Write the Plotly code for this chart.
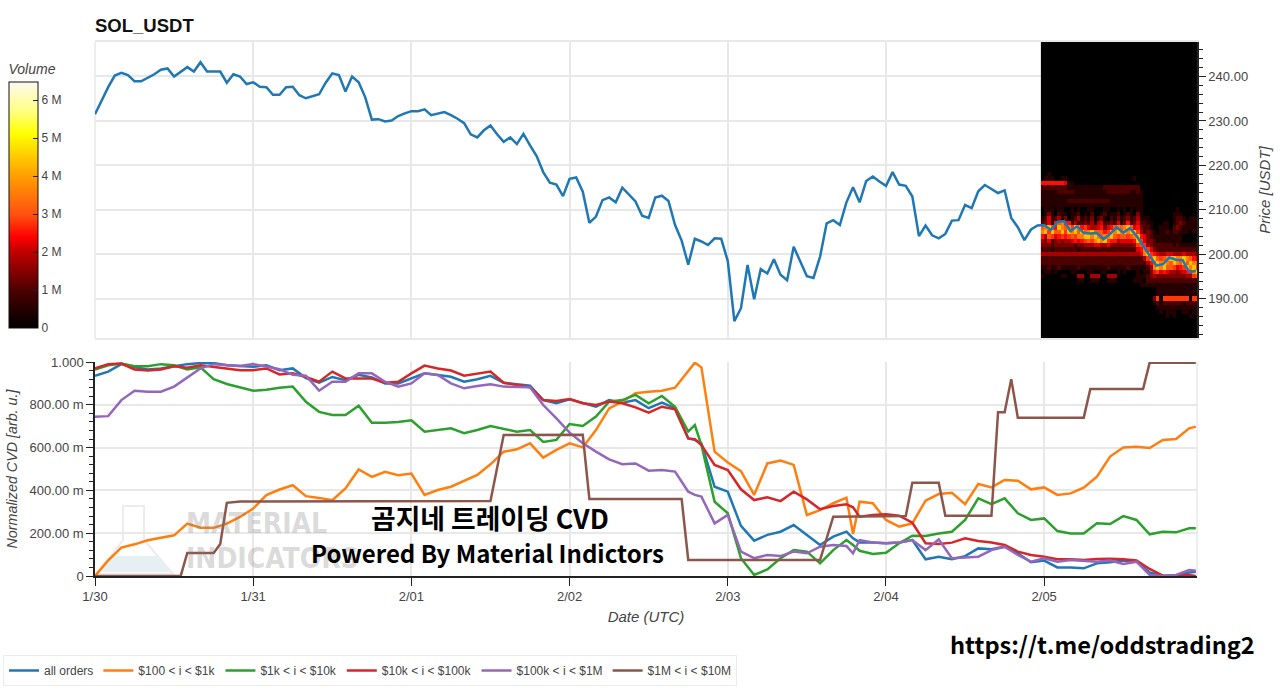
import pandas as pd
import plotly.graph_objects as go
from plotly.subplots import make_subplots

# harga per jam, mulai 1/30 00:00
price = [
    231.5, 234.5, 237.6, 240.2, 240.8, 240.3, 238.9, 238.9, 239.7, 240.5, 241.5, 241.8,
    240.0, 241.1, 242.1, 241.1, 243.2, 241.1, 241.1, 241.1, 238.6, 240.5, 240.0, 238.3,
    238.7, 237.7, 237.6, 235.9, 235.9, 237.6, 237.7, 235.8, 235.1, 235.6, 236.0, 238.6,
    240.7, 240.3, 236.6, 240.0, 238.7, 235.3, 230.3, 230.4, 229.9, 230.1, 231.1, 231.7,
    232.2, 232.2, 232.6, 231.3, 231.6, 232.0, 231.3, 230.5, 229.5, 227.0, 226.3, 227.9,
    229.0, 227.0, 225.3, 226.3, 224.8, 227.1, 224.5, 222.1, 218.5, 216.1, 215.7, 213.1,
    217.0, 217.3, 214.1, 207.1, 208.5, 212.2, 212.8, 211.7, 215.0, 213.5, 211.9, 208.7,
    208.2, 212.8, 213.2, 212.0, 206.6, 203.1, 197.7, 203.5, 202.9, 202.1, 203.6, 203.5,
    198.5, 185.0, 187.9, 197.6, 189.9, 196.7, 195.7, 198.9, 195.4, 194.2, 201.7, 198.4,
    195.1, 194.7, 199.5, 207.0, 207.7, 206.6, 211.7, 215.1, 211.7, 216.5, 217.5, 216.4,
    215.4, 218.5, 215.7, 215.4, 213.0, 204.1, 206.5, 204.3, 203.6, 204.6, 207.6, 207.7,
    211.1, 210.4, 214.2, 215.6, 214.6, 213.8, 214.4, 208.2, 206.1, 203.2, 205.6, 206.5,
    206.6, 205.5, 207.3, 207.5, 205.2, 206.3, 204.8, 204.7, 204.8, 203.4, 204.6, 206.1,
    204.9, 205.9, 204.2, 201.9, 199.9, 197.5, 197.8, 199.3, 198.8, 198.7, 196.0, 196.3,
]

# jam untuk semua seri CVD kecuali brown
cvd_hours = [
    0, 2, 4, 6, 8, 10, 12, 14, 16, 18, 20, 22, 24, 26, 28, 30, 32, 34, 36, 38, 40, 42, 44, 46, 48,
    50, 52, 54, 56, 58, 60, 62, 64, 66, 68, 70, 72, 74, 76, 78, 80, 82, 84, 86, 88, 90, 91,
    92, 94, 96, 98, 100, 102, 104, 106, 108, 110, 112, 114, 115,
    116, 118, 120, 122, 124, 126, 128, 130, 132, 134, 136, 138, 140, 142, 144, 146, 148, 150,
    152, 154, 156, 158, 160, 162, 164, 166, 167,
]
all_orders = [
    .936, .955, .99, .975, .965, .97, .98, .99, .995, .995, .985, .98, .978, .985, .962, .97, .925, .903, .93, .915, .94, .928, .90, .90, .923,
    .947, .939, .931, .908, .919, .935, .903, .896, .889, .822, .807, .826, .807, .791, .822, .81, .822, .784, .81, .784, .643, .636,
    .62, .417, .394, .234, .165, .192, .207, .238, .192, .145, .184, .207, .176,
    .157, .157, .153, .157, .168, .078, .09, .078, .093, .129, .125, .137, .106, .064, .072, .04, .04, .036,
    .059, .064, .072, .067, .016, 0, .002, .016, .02,
]
orders_100_1k = [
    0, .073, .133, .148, .167, .18, .19, .245, .226, .225, .245, .276, .315, .378, .404, .424, .373, .365, .354, .409, .498, .463, .487, .471, .479,
    .379, .402, .417, .445, .472, .522, .581, .592, .62, .553, .589, .62, .601, .682, .783, .815, .854, .861, .866, .88, .96, .997,
    .975, .581, .53, .49, .379, .526, .539, .519, .285, .308, .34, .366, .196,
    .347, .34, .262, .231, .246, .352, .383, .389, .336, .43, .414, .449, .445, .405, .414, .379, .386, .413,
    .464, .558, .601, .604, .598, .636, .64, .69, .698,
]
orders_1k_10k = [
    .965, .985, .993, .98, .98, .99, .985, .965, .975, .92, .897, .88, .866, .87, .88, .885, .814, .767, .752, .752, .796, .716, .716, .72, .728,
    .674, .682, .69, .667, .682, .701, .687, .674, .682, .626, .636, .71, .701, .745, .815, .822, .846, .807, .841, .791, .675, .705,
    .612, .347, .293, .083, .005, .031, .083, .121, .114, .059, .121, .168, .145,
    .118, .103, .109, .153, .188, .187, .199, .207, .262, .363, .336, .363, .293, .262, .269, .21, .199, .199,
    .246, .243, .28, .262, .195, .207, .204, .223, .223,
]
orders_10k_100k = [
    .97, .99, .993, .965, .96, .965, .98, .973, .985, .978, .97, .962, .962, .97, .942, .947, .93, .908, .955, .923, .923, .923, .903, .908, .947,
    .983, .97, .96, .936, .944, .955, .903, .893, .882, .822, .818, .827, .807, .799, .815, .807, .788, .763, .791, .779, .643, .639,
    .612, .519, .495, .405, .355, .368, .35, .394, .358, .312, .327, .335, .321,
    .277, .285, .288, .282, .249, .153, .15, .156, .176, .164, .157, .145, .114, .098, .09, .078, .078, .075,
    .079, .081, .078, .072, .033, .002, 0, .005, 0,
]
orders_100k_1m = [
    .744, .747, .822, .866, .861, .861, .885, .928, .97, .99, .986, .981, .99, .978, .966, .94, .936, .866, .908, .908, .947, .947, .908, .885, .90,
    .947, .939, .90, .877, .888, .896, .885, .885, .882, .799, .737, .67, .62, .581, .545, .522, .526, .492, .495, .488, .394, .379,
    .371, .246, .285, .114, .083, .098, .093, .114, .106, .137, .145, .14, .106,
    .168, .157, .153, .157, .168, .121, .171, .083, .087, .09, .121, .137, .098, .067, .083, .067, .075, .072,
    .067, .072, .056, .067, .005, 0, .005, .028, .025,
]
# brown berbentuk tangga, jadi pakai titik belok sendiri
brown_hours = [0, 13, 14, 18, 19, 20, 22, 60, 62, 74, 75, 89, 90, 110, 112, 123, 124, 128, 129, 136, 137, 138, 139, 140, 150, 151, 159, 160, 167]
orders_1m_10m = [0, 0, .108, .108, .15, .342, .348, .35, .659, .66, .36, .36, .075, .075, .277, .28, .436, .436, .282, .282, .765, .765, .92, .74, .74, .874, .874, .997, .997]

series_names = ["all orders", "$100 < i < $1k", "$1k < i < $10k", "$10k < i < $100k", "$100k < i < $1M"]
series_colors = ["#1f77b4", "#ff7f0e", "#2ca02c", "#d62728", "#9467bd"]
brown_name = "$1M < i < $10M"
brown_color = "#8c564b"

cvd_ticks = [0, 0.2, 0.4, 0.6, 0.8, 1.0]
cvd_ticktext = ["0", "200.00 m", "400.00 m", "600.00 m", "800.00 m", "1.000"]
volume_ticks = [0, 1e6, 2e6, 3e6, 4e6, 5e6, 6e6]
volume_ticktext = ["0", "1 M", "2 M", "3 M", "4 M", "5 M", "6 M"]

# baris heatmap dari harga 218 turun ke 181, sel 30 menit; digit hex menunjuk ke heat_levels
heat_rows = [
    "00100000 00000000 00000000 00000000 00000000 00000000",
    "01110011 00000000 00000000 00001000 00000000 00000000",
    "66666665 11000000 00000000 00000000 00000000 00000000",
    "22222222 11111111 11122222 22222200 00000000 00000000",
    "11111222 22111111 11112222 22211210 00000000 00000000",
    "11111111 11111111 11111111 11111110 00000000 00000000",
    "11111111 22222222 22222111 11111110 00000000 00000000",
    "11111111 11111111 11111111 11111110 00000000 00000000",
    "01110110 01010011 00011001 01010110 00000000 01000000",
    "01310211 01120102 00120112 01210310 00000000 11100000",
    "12512413 01241213 02310213 12312411 10000000 12210110",
    "23526896 62422324 14522325 13623522 11000110 12321111",
    "89a86a98 97a96754 45635689 89a85632 21001110 23211111",
    "9a7a88a7 a9a8a89a 88867a9a 9a9aa742 32101121 22111011",
    "64875676 78799aa9 a9899a87 88789a65 32111111 11100000",
    "43523434 45656787 9a9a7664 55556a75 33211111 11100000",
    "33323333 33233444 55445333 33334787 43222222 12111111",
    "22212222 22212222 22222222 22222569 75322222 22222222",
    "44444444 44444444 44444444 44444459 a7654455 44454443",
    "22222222 22222222 22222222 22222224 79a8789a a99a9865",
    "22222222 22222222 22222222 22222222 468a9a98 a98a8a98",
    "11211211 11121111 11112111 11211111 249a9a88 7567a9a7",
    "01101000 01100011 00110001 01000101 13675654 4345669a",
    "10000011 00044004 44004440 00000111 23433333 33334478",
    "00000000 00011001 11001110 00001110 22222222 22222222",
    "00000000 00000000 00000000 00000011 11111111 11111111",
    "00000000 00000000 00000000 00000000 00011111 11111111",
    "00000000 00000000 00000000 00000000 00011111 11111111",
    "00000000 00000000 00000000 00000000 00370777 77777077",
    "00000000 00000000 00000000 00000000 00121222 22212222",
    "00000000 00000000 00000000 00000000 00011111 11111111",
    "00000000 00000000 00000000 00000000 00001011 10011011",
    "00000000 00000000 00000000 00000000 00000010 10000101",
    "00000000 00000000 00000000 00000000 00000000 00000001",
    "00000000 00000000 00000000 00000000 00000000 00000000",
    "00000000 00000000 00000000 00000000 00000000 00000000",
    "00000000 00000000 00000000 00000000 00000000 00000000",
    "00000000 00000000 00000000 00000000 00000000 00000000",
]
heat_levels = [0, 0.5e6, 1e6, 1.4e6, 1.8e6, 2.2e6, 2.5e6, 2.8e6, 3.1e6, 3.6e6, 4.4e6]
heat_colors = [
    [0, "#000000"], [0.15, "#4a0000"], [0.31, "#c00000"], [0.37, "#ff0000"], [0.46, "#ff5010"],
    [0.62, "#ffa000"], [0.79, "#ffff00"], [0.88, "#ffff80"], [1, "#fff8f0"],
]

W, H = 1280, 691
FONT = "Liberation Sans"
GREY = "#444444"
GRID = "#e8e8e8"


def px(x):
    return (x - 95) / (1197 - 95)


def py(y):
    return (576 - y) / (576 - 42)


start = pd.Timestamp("2025-01-30")
to_date = lambda hours: [start + pd.Timedelta(hours=h) for h in hours]

fig = make_subplots(rows=2, cols=1, shared_xaxes=True, vertical_spacing=0.04)

# Panel atas: harga dan heatmap volume
heat_z = [[heat_levels[int(c, 16)] for c in row.replace(" ", "")] for row in heat_rows]
heat_z = [[0] * 48 for _ in range(30)] + heat_z
fig.add_trace(go.Heatmap(
    x=pd.date_range("2025-02-04 23:45", periods=48, freq="30min"),
    y=list(range(248, 180, -1)),
    z=heat_z, zmin=0, zmax=6.48e6, colorscale=heat_colors, hoverongaps=False, name="Volume",
    colorbar=dict(
        xref="paper", yref="paper", x=px(9), xanchor="left", y=py(328), yanchor="bottom",
        thickness=29, thicknessmode="pixels", len=267, lenmode="pixels", xpad=0, ypad=0,
        outlinecolor="#111111", outlinewidth=1,
        tickmode="array", tickvals=volume_ticks, ticktext=volume_ticktext,
        ticks="inside", ticklen=5, tickcolor="#222222", tickfont=dict(size=12, color=GREY, family=FONT),
        title=dict(text="<i>Volume</i>", side="top", font=dict(size=14, color=GREY, family=FONT)),
    ),
), row=1, col=1)
fig.add_trace(go.Scatter(
    x=to_date(range(len(price))), y=price, mode="lines", showlegend=False, name="Price",
    line=dict(color="#1f77b4", width=2.5),
), row=1, col=1)

# Panel bawah: CVD
cvd_values = [all_orders, orders_100_1k, orders_1k_10k, orders_10k_100k, orders_100k_1m]
for name, color, values in zip(series_names, series_colors, cvd_values):
    fig.add_trace(go.Scatter(
        x=to_date(cvd_hours), y=values, mode="lines", name=name, cliponaxis=False,
        line=dict(color=color, width=2.5),
    ), row=2, col=1)
fig.add_trace(go.Scatter(
    x=to_date(brown_hours), y=orders_1m_10m, mode="lines", name=brown_name, cliponaxis=False,
    line=dict(color=brown_color, width=2.5),
), row=2, col=1)

x_range = ["2025-01-30", "2025-02-05 23:11"]
axis_font = dict(size=13, color=GREY, family=FONT)
title_font = dict(size=15, color=GREY, family=FONT)
fig.update_xaxes(
    range=x_range, dtick=86400000, showgrid=True, gridcolor=GRID, gridwidth=1.5, zeroline=False,
)
fig.update_xaxes(showticklabels=False, ticks="", showline=True, linecolor=GRID, linewidth=1.5, mirror=True, row=1, col=1)
fig.update_xaxes(
    tickformat="%-m/%d", ticks="outside", ticklen=8, tickcolor="#222222", tickfont=axis_font,
    showline=True, linecolor="#222222", linewidth=1.5,
    title=dict(text="<i>Date (UTC)</i>", font=title_font, standoff=8), row=2, col=1,
)
fig.update_yaxes(
    domain=[py(338), 1], side="right", range=[181.2, 247.75], dtick=10, tick0=0, tickformat=".2f",
    ticks="outside", ticklen=7, tickcolor="#222222", tickfont=axis_font, showline=True,
    linecolor="#222222", linewidth=1.5, showgrid=True, gridcolor=GRID, gridwidth=1.5, zeroline=False,
    minor=dict(dtick=2, tick0=0, ticks="outside", ticklen=4, tickcolor="#222222"),
    title=dict(text="<i>Price [USDT]</i>", font=title_font, standoff=12), row=1, col=1,
)
fig.update_yaxes(
    domain=[0, py(362)], range=[0, 1], tickmode="array", tickvals=cvd_ticks, ticktext=cvd_ticktext,
    ticks="outside", ticklen=7, tickcolor="#222222", tickfont=axis_font, showline=True,
    linecolor="#222222", linewidth=1.5, showgrid=True, gridcolor=GRID, gridwidth=1.5, zeroline=False,
    minor=dict(tickmode="array", tickvals=[i * 0.04 for i in range(26)], ticks="outside", ticklen=4, tickcolor="#222222"),
    title=dict(text="<i>Normalized CVD [arb. u.]</i>", font=dict(size=14.3, color=GREY, family=FONT), standoff=8), row=2, col=1,
)

# Garis tepi terang dan watermark labu
flask_line = dict(color="#ececec", width=2)
flask = [(123, 506), (144, 506), (144, 540), (173, 574), (97, 574), (123, 540)]
fluid = [(112, 556), (158, 556), (170, 572), (100, 572)]


def to_path(points):
    return "M " + " L ".join(f"{px(a):.4f} {py(b):.4f}" for a, b in points) + " Z"


fig.update_layout(shapes=[
    dict(type="line", xref="x domain", yref="y domain", x0=0, x1=0, y0=0, y1=1,
         line=dict(color=GRID, width=1.5), layer="below"),
    dict(type="line", xref="x2 domain", yref="y2 domain", x0=1, x1=1, y0=0, y1=1,
         line=dict(color=GRID, width=1.5), layer="below"),
    dict(type="path", xref="paper", yref="paper", path=to_path(flask), line=flask_line, layer="below"),
    dict(type="path", xref="paper", yref="paper", path=to_path(fluid), line=dict(width=0),
         fillcolor="#e6f0f3", layer="below"),
])


def label(text, x, y, size, color="#000000", family="Noto Sans CJK KR", anchor="center"):
    return dict(text=text, xref="paper", yref="paper", x=px(x), y=py(y), xanchor=anchor, yanchor="middle",
                showarrow=False, font=dict(size=size, color=color, family=family))


fig.update_layout(annotations=[
    label("<b>MATERIAL</b>", 184, 523, 28, "rgba(130,130,130,0.3)", "DejaVu Sans Condensed", "left"),
    label("<b>INDICATORS</b>", 184, 558, 28, "rgba(130,130,130,0.3)", "DejaVu Sans Condensed", "left"),
    label("<b>곰지네 트레이딩 CVD</b>", 490, 517, 26.8),
    label("<b>Powered By Material Indictors</b>", 487, 552, 24),
    label("<b>https://t.me/oddstrading2</b>", 1102, 644, 23.6),
])

fig.update_layout(
    width=W, height=H,
    margin=dict(l=95, r=83, t=42, b=115, pad=0, autoexpand=False),
    paper_bgcolor="white", plot_bgcolor="white",
    font=dict(family=FONT, color=GREY),
    title=dict(text="<b>SOL_USDT</b>", x=95 / W, xanchor="left", y=1 - 26 / H, yanchor="middle",
               font=dict(size=18.5, color="#111111", family=FONT)),
    legend=dict(
        orientation="h", x=px(3), xanchor="left", y=py(655), yanchor="top",
        bgcolor="white", bordercolor="#ececec", borderwidth=1,
        font=dict(size=12, color=GREY, family=FONT), itemwidth=30, traceorder="normal",
    ),
)

fig.write_html("out.html", config=dict(displayModeBar=False), post_script="document.body.style.margin='0';")
